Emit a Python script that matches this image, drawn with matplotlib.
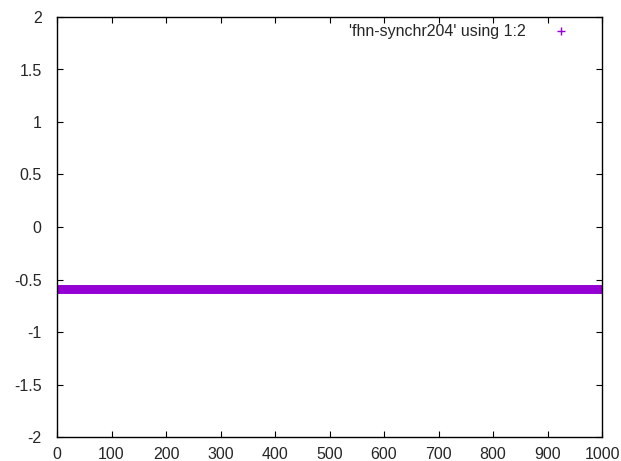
import numpy as np
import matplotlib
matplotlib.use('Agg')
import matplotlib.pyplot as plt

plt.rcParams['font.family'] = ['Liberation Sans', 'DejaVu Sans']

# columna 1: tiempo, columna 2: variable del sistema sincronizado
t = np.arange(0, 1000.5, 0.5)
v_level = -0.586
v = np.full(t.shape, v_level)

xticks = [0, 100, 200, 300, 400, 500, 600, 700, 800, 900, 1000]
yticks = [-2, -1.5, -1, -0.5, 0, 0.5, 1, 1.5, 2]
ytick_labels = ['-2', '-1.5', '-1', '-0.5', '0', '0.5', '1', '1.5', '2']

fig = plt.figure(figsize=(6.21, 4.61), dpi=100)
ax = fig.add_axes([57 / 621, 24 / 461, 545 / 621, 420 / 461])

ax.plot(t, v, linestyle='none', marker='+', markersize=5.5, markeredgewidth=1,
        color='#9400d3', label="'fhn-synchr204' using 1:2")

ax.set_xlim(0, 1000)
ax.set_ylim(-2, 2)
ax.set_xticks(xticks)
ax.set_yticks(yticks)
ax.set_yticklabels(ytick_labels)
ax.tick_params(direction='in', top=True, right=True, length=4, width=0.8,
               labelsize=11.5, labelcolor='#262626')
ax.tick_params(axis='y', pad=11)
ax.tick_params(axis='x', pad=7)
for s in ax.spines.values():
    s.set_linewidth(1)

leg = ax.legend(loc='upper right', frameon=False, fontsize=11.5,
                markerfirst=False, handlelength=2.2, handletextpad=1.15,
                borderaxespad=0.3, bbox_to_anchor=(0.978, 1.009))
for txt in leg.get_texts():
    txt.set_color('#262626')

fig.savefig('out.png', dpi=100)
